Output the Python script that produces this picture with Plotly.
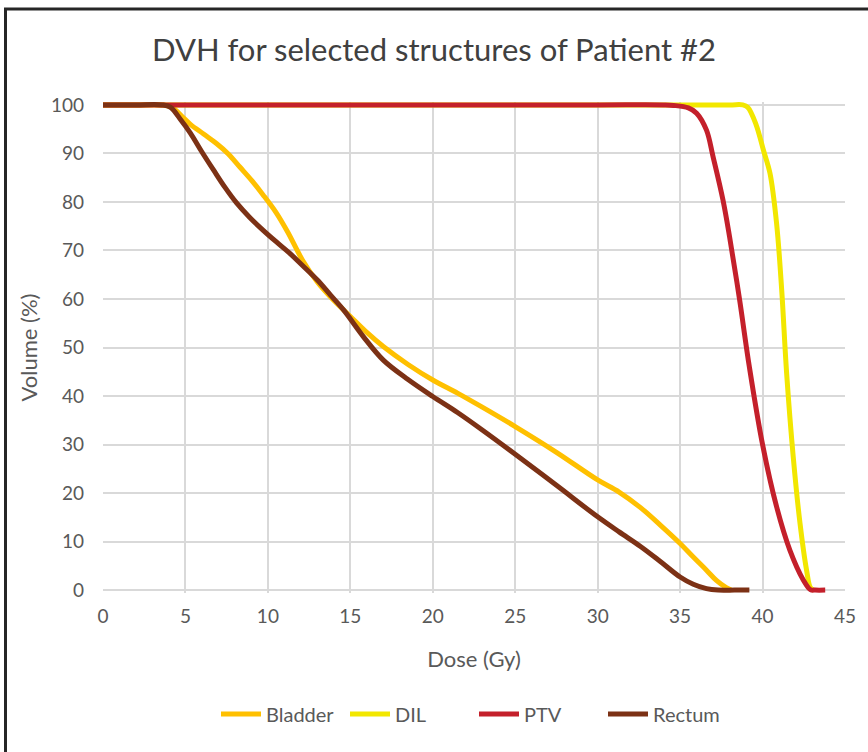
import plotly.graph_objects as go

# Dose (Gy) / Volume (%) readings per structure
bladder_dose = [0, 2, 3.6, 4.2, 4.8, 5.3, 6.1, 6.9, 7.6, 8.3, 9.0, 9.7, 10.5, 11.2, 12.1, 13.0, 13.8, 15.0, 16.0, 17.0,
                18.5, 20.0, 21.5, 23.0, 25.0, 27.5, 30.0, 31.3, 32.6, 33.8, 35.0, 35.8, 36.6, 37.2, 37.8, 38.1]
bladder_vol = [100, 100, 100, 99.5, 97.6, 96.0, 94.0, 92.0, 89.9, 87.2, 84.5, 81.5, 77.8, 73.8, 68.0, 63.5, 60.4, 56.4, 53.1, 50.2,
               46.5, 43.3, 40.6, 37.7, 33.7, 28.4, 22.7, 20.2, 17.0, 13.4, 9.6, 6.8, 4.1, 2.0, 0.5, 0]

dil_dose = [0, 10, 20, 30, 38.0, 38.8, 39.1, 39.6, 40.05, 40.45, 40.85, 41.16, 41.46, 41.86, 42.27, 42.67, 42.9, 43.1]
dil_vol = [100, 100, 100, 100, 100, 100, 99.5, 96.0, 90.7, 85.9, 75.6, 61.9, 44.7, 27.5, 13.8, 4.1, 0.5, 0]

ptv_dose = [0, 10, 20, 30, 34.0, 34.6, 35.5, 36.0, 36.6, 37.0, 37.6, 38.0, 38.6, 39.2, 40.0, 40.85, 41.66, 42.47, 42.9, 43.2, 43.8]
ptv_vol = [100, 100, 100, 100, 100, 99.9, 99.4, 98.3, 94.8, 89.3, 80.4, 72.8, 60.0, 46.0, 30.0, 17.2, 8.2, 2.1, 0.1, 0, 0]

rectum_dose = [0, 2, 3.6, 4.1, 4.7, 5.3, 6.0, 6.7, 7.4, 8.1, 8.9, 9.7, 10.5, 11.3, 12.1, 13.0, 13.8, 14.6, 15.8, 17.0,
               18.5, 20.0, 21.5, 23.0, 25.0, 27.5, 30.0, 31.3, 32.6, 33.8, 35.0, 35.8, 36.6, 37.3, 38.3, 39.2]
rectum_vol = [100, 100, 100, 99.5, 97.0, 94.2, 90.3, 86.6, 83.0, 79.8, 76.8, 74.2, 71.8, 69.5, 66.9, 63.9, 60.8, 57.7, 52.2, 47.4,
              43.4, 39.9, 36.6, 33.0, 28.0, 21.6, 15.1, 12.0, 9.0, 5.9, 2.7, 1.2, 0.3, 0, 0, 0]

x_ticks = [0, 5, 10, 15, 20, 25, 30, 35, 40, 45]
y_ticks = [0, 10, 20, 30, 40, 50, 60, 70, 80, 90, 100]

series = [
    ("Bladder", bladder_dose, bladder_vol, "#FFC000"),
    ("DIL", dil_dose, dil_vol, "#F2E700"),
    ("PTV", ptv_dose, ptv_vol, "#C4202B"),
    ("Rectum", rectum_dose, rectum_vol, "#7C3115"),
]

FONT = "Lato"
fig = go.Figure()
for name, xs, ys, col in series:
    fig.add_trace(go.Scatter(x=xs, y=ys, name=name, mode="lines",
                             line=dict(color=col, width=5, shape="spline", smoothing=1.0)))

fig.update_layout(
    width=868, height=752,
    margin=dict(l=103, r=23, t=102, b=159),
    paper_bgcolor="white", plot_bgcolor="white",
    font=dict(family=FONT, color="#595959", size=19),
    title=dict(text="DVH for selected structures of Patient #2", x=0.5, xanchor="center",
               y=1 - 50 / 752, yanchor="middle",
               font=dict(family=FONT, size=31, color="#404040")),
    showlegend=True,
    legend=dict(orientation="h", x=0.5, xanchor="center", y=-0.2464, yanchor="middle",
                font=dict(family=FONT, size=20, color="#595959"), itemwidth=40,
                entrywidth=74, traceorder="normal"),
    xaxis=dict(range=[0, 45], tickvals=x_ticks, showgrid=True, gridcolor="#D9D9D9", gridwidth=1.5,
               zeroline=False, showline=False, ticks="", ticklabelstandoff=10,
               title=dict(text="Dose (Gy)", font=dict(size=22, color="#595959"), standoff=25)),
    yaxis=dict(range=[-0.6, 100.6], tickvals=y_ticks, showgrid=True, gridcolor="#D9D9D9", gridwidth=1.5,
               zeroline=False, showline=False, ticks="", ticklabelstandoff=18,
               title=dict(text="Volume (%)", font=dict(size=22, color="#595959"), standoff=7)),
    shapes=[
        dict(type="line", xref="paper", yref="y", x0=0, x1=1, y0=0, y1=0,
             line=dict(color="#BFBFBF", width=2), layer="below"),
        dict(type="path", xref="paper", yref="paper",
             path="M -0.1314 -1 L -0.1314 1.1894 L 1.2 1.1894",
             line=dict(color="#262626", width=3)),
    ],
)

fig.write_html("out.html", config={"displayModeBar": False},
               post_script="document.body.style.margin='0';")
